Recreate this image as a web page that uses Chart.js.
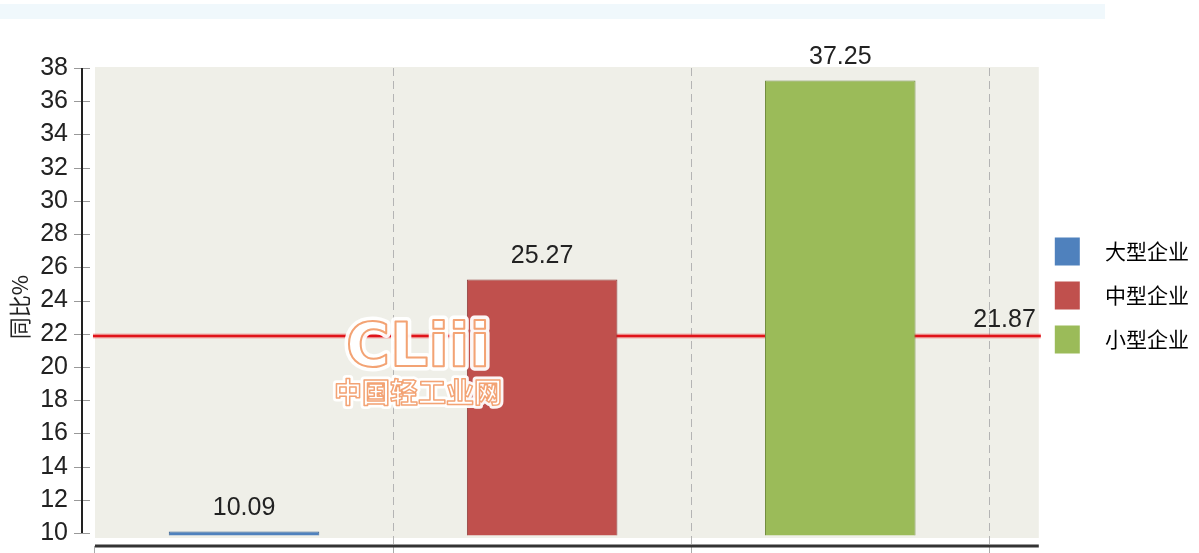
<!DOCTYPE html>
<html>
<head>
<meta charset="utf-8">
<script src="https://cdn.jsdelivr.net/npm/chart.js@4.4.1/dist/chart.umd.min.js"></script>
<style>
  html, body { margin: 0; padding: 0; background: #fff; }
  #wrap { position: relative; width: 1199px; height: 553px; }
  #band { position: absolute; left: 0; top: 4px; width: 1105px; height: 15px; background: #f0f8fc; }
  canvas { position: absolute; left: 0; top: 0; }
</style>
</head>
<body>
<div id="wrap">
  <div id="band"></div>
  <canvas id="chart" width="1199" height="553"></canvas>
</div>
<script>
// data
const categories = ['大型企业', '中型企业', '小型企业'];
const values = [10.09, 25.27, 37.25];
const average = 21.87;
const yTicks = [10, 12, 14, 16, 18, 20, 22, 24, 26, 28, 30, 32, 34, 36, 38];
const xBounds = [0, 1, 2, 3];

const fills = ['#4f81bd', '#c0504d', '#9bbb59'];
const edges = ['#3d6591', '#8e3d3b', '#728d40'];
const NUM_FONT = "'Liberation Sans', sans-serif";
const CJK_FONT = "'Noto Sans CJK SC', sans-serif";

const datasets = categories.map((c, i) => ({
  label: c,
  data: [{ x: i + 0.5, y: values[i] }],
  backgroundColor: fills[i],
  borderColor: edges[i],
  borderWidth: 1,
  base: 9.85,
  grouped: false,
  categoryPercentage: 0.505,
  barPercentage: 1,
}));

const decor = {
  id: 'decor',
  beforeDraw(chart) {
    const { ctx, chartArea: a, scales: { x, y } } = chart;
    const x0 = x.getPixelForValue(0);
    ctx.save();
    ctx.fillStyle = '#efefe8';
    ctx.fillRect(x0, a.top - 1, a.right - x0, y.getPixelForValue(9.7) - a.top + 1);
    ctx.restore();
  },
  beforeDatasetsDraw(chart) {
    // average line sits behind the bars
    const { ctx, chartArea: a, scales: { x, y } } = chart;
    const yy = y.getPixelForValue(average);
    const x0 = x.getPixelForValue(0) - 2;
    ctx.save();
    ctx.strokeStyle = 'rgba(240,60,60,0.35)';
    ctx.lineWidth = 5;
    ctx.beginPath(); ctx.moveTo(x0, yy); ctx.lineTo(a.right + 2, yy); ctx.stroke();
    ctx.strokeStyle = '#e0141a';
    ctx.lineWidth = 2.5;
    ctx.beginPath(); ctx.moveTo(x0, yy); ctx.lineTo(a.right + 2, yy); ctx.stroke();
    ctx.restore();
  },
  afterDatasetsDraw(chart) {
    const { ctx, chartArea: a, scales: { x, y } } = chart;
    ctx.save();
    ctx.fillStyle = '#222';
    ctx.font = '25px ' + NUM_FONT;
    ctx.textBaseline = 'bottom';
    ctx.textAlign = 'center';
    chart.data.datasets.forEach((ds, i) => {
      const bar = chart.getDatasetMeta(i).data[0];
      ctx.fillText(values[i].toFixed(2), bar.x, bar.y - 11);
    });
    ctx.textAlign = 'right';
    ctx.fillText(average.toFixed(2), a.right - 3, y.getPixelForValue(average) - 3);

    // y axis line with ticks crossing it
    ctx.strokeStyle = '#999';
    ctx.lineWidth = 1;
    yTicks.forEach(v => {
      const yy = Math.round(y.getPixelForValue(v)) + 0.5;
      ctx.beginPath(); ctx.moveTo(a.left - 8, yy); ctx.lineTo(a.left + 8, yy); ctx.stroke();
    });
    ctx.strokeStyle = '#222';
    ctx.lineWidth = 2;
    ctx.beginPath();
    ctx.moveTo(a.left, y.getPixelForValue(38));
    ctx.lineTo(a.left, y.getPixelForValue(10));
    ctx.stroke();

    // x axis line
    ctx.strokeStyle = '#333';
    ctx.lineWidth = 3;
    ctx.beginPath();
    ctx.moveTo(x.getPixelForValue(0), a.bottom);
    ctx.lineTo(a.right, a.bottom);
    ctx.stroke();
    ctx.restore();
  },
  afterDraw(chart) {
    // CLiii watermark
    const { ctx } = chart;
    ctx.save();
    ctx.textAlign = 'center';
    ctx.textBaseline = 'alphabetic';
    ctx.lineJoin = 'round';
    ctx.font = 'bold 60px "DejaVu Sans", sans-serif';
    ctx.strokeStyle = 'rgba(255,255,255,0.95)';
    ctx.lineWidth = 9;
    ctx.strokeText('CLiii', 418, 366);
    ctx.fillStyle = '#fff';
    ctx.fillText('CLiii', 418, 366);
    ctx.strokeStyle = '#f3a374';
    ctx.lineWidth = 2;
    ctx.strokeText('CLiii', 418, 366);
    ctx.font = 'bold 28px ' + CJK_FONT;
    ctx.strokeStyle = 'rgba(255,255,255,0.95)';
    ctx.lineWidth = 7;
    ctx.strokeText('中国轻工业网', 418, 403);
    ctx.fillStyle = '#fff';
    ctx.fillText('中国轻工业网', 418, 403);
    ctx.strokeStyle = '#f3a374';
    ctx.lineWidth = 1.5;
    ctx.strokeText('中国轻工业网', 418, 403);
    ctx.restore();
  },
};

new Chart(document.getElementById('chart').getContext('2d'), {
  type: 'bar',
  data: { datasets },
  options: {
    responsive: false,
    animation: false,
    layout: { padding: { top: 38, right: 0, left: 0, bottom: 0 } },
    plugins: {
      tooltip: { enabled: false },
      legend: {
        position: 'right',
        align: 'center',
        labels: {
          boxWidth: 25,
          boxHeight: 28,
          padding: 16,
          color: '#222',
          font: { family: CJK_FONT, size: 21 },
          generateLabels(chart) {
            return chart.data.datasets.map((ds, i) => ({
              text: '\u2002\u2009' + ds.label,
              fillStyle: fills[i],
              strokeStyle: fills[i],
              lineWidth: 0,
              datasetIndex: i,
              hidden: false,
            }));
          },
        },
      },
    },
    scales: {
      x: {
        type: 'linear',
        offset: false,
        min: -0.04355,
        max: 3.166,
        afterBuildTicks(s) { s.ticks = xBounds.map(v => ({ value: v })); },
        afterFit(s) { s.height = 7; },
        ticks: { display: false },
        border: { display: false, dash: [8, 5] },
        grid: {
          offset: false,
          color: c => (c.tick && c.tick.value === 0) ? 'rgba(0,0,0,0)' : '#b4b4b4',
          tickColor: '#aaa',
          tickLength: 7,
          lineWidth: 1,
        },
      },
      y: {
        min: 9.22,
        max: 38,
        afterBuildTicks(s) { s.ticks = yTicks.map(v => ({ value: v })); },
        afterFit(s) { s.width = 82; s.paddingTop = 68; s.paddingBottom = 0; },
        border: { display: false },
        grid: { drawOnChartArea: false, drawTicks: false },
        ticks: {
          padding: 14,
          color: '#222',
          font: { family: NUM_FONT, size: 25 },
        },
        title: {
          display: true,
          text: '同比%',
          color: '#222',
          font: { family: CJK_FONT, size: 22 },
          padding: { top: 6, bottom: 4 },
        },
      },
    },
  },
  plugins: [decor],
});
</script>
</body>
</html>
